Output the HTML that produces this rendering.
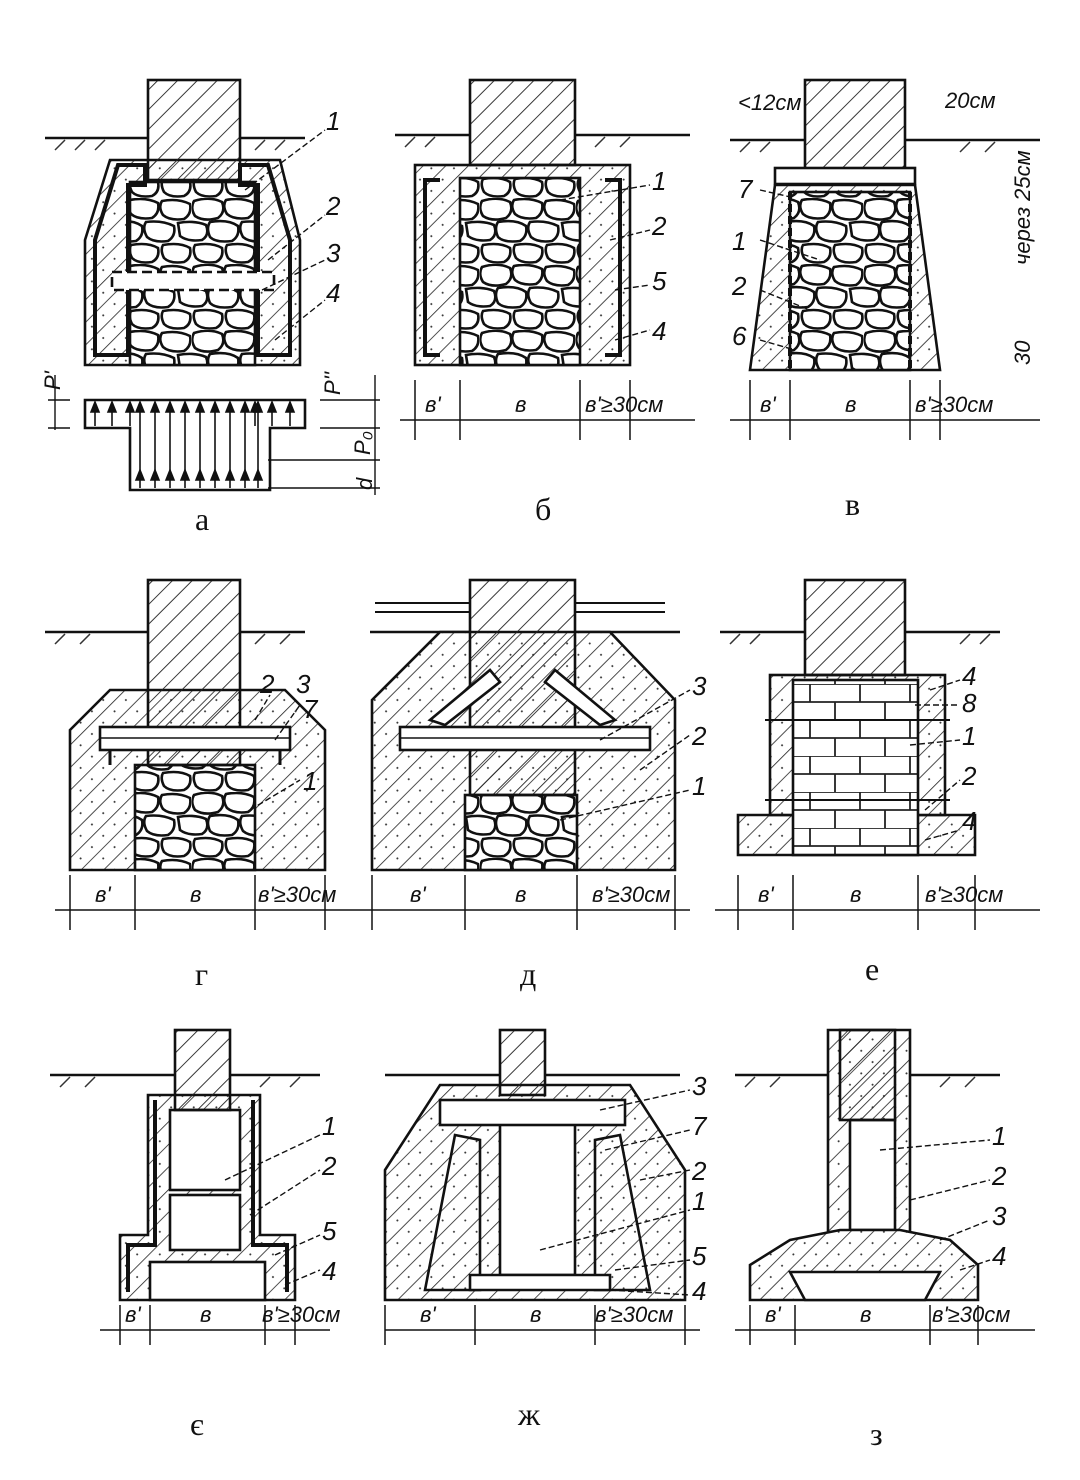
<!DOCTYPE html>
<html><head><meta charset="utf-8"><style>
html,body{margin:0;padding:0;background:#fff}
svg{display:block}
text{font-family:"Liberation Sans",sans-serif;fill:#111}
.n{font-size:26px;font-style:italic}
.l{font-family:"Liberation Serif",serif;font-size:32px}
.d{font-size:22px;font-style:italic}
</style></head><body>
<svg width="1080" height="1480" viewBox="0 0 1080 1480" xmlns="http://www.w3.org/2000/svg">
<defs>
<pattern id="h" width="16" height="16" patternUnits="userSpaceOnUse" patternTransform="rotate(45)">
<rect width="16" height="16" fill="#fff"/><line x1="0" y1="0" x2="0" y2="16" stroke="#222" stroke-width="1.6"/><circle cx="8" cy="6" r="1" fill="#333"/>
</pattern>
<pattern id="g" width="14" height="14" patternUnits="userSpaceOnUse" patternTransform="rotate(45)">
<line x1="0" y1="0" x2="0" y2="14" stroke="#222" stroke-width="1.8"/>
</pattern>
<pattern id="r" width="96" height="66" patternUnits="userSpaceOnUse">
<rect width="96" height="66" fill="#fff"/>
<g fill="#fff" stroke="#111" stroke-width="2.6">
<path d="M2 3Q18 -2 30 4Q34 14 26 20Q12 24 3 18Q-2 10 2 3Z"/>
<path d="M34 2Q50 -1 62 5Q64 15 56 20Q42 22 35 16Q30 8 34 2Z"/>
<path d="M66 3Q82 0 94 6Q96 16 88 21Q74 23 67 17Q62 9 66 3Z"/>
<path d="M-14 25Q2 22 14 27Q18 37 10 42Q-4 44 -12 38Z"/>
<path d="M18 24Q36 21 46 28Q48 38 40 43Q24 45 18 39Q14 30 18 24Z"/>
<path d="M50 24Q66 22 78 28Q80 38 72 43Q58 45 51 39Q46 30 50 24Z"/>
<path d="M82 25Q98 22 110 27Q114 37 106 42Q92 44 84 38Z"/>
<path d="M3 47Q20 44 30 50Q32 60 24 64Q10 66 4 60Q0 52 3 47Z"/>
<path d="M35 47Q52 44 62 50Q64 60 56 64Q42 66 36 60Q32 52 35 47Z"/>
<path d="M67 47Q84 44 94 50Q96 60 88 64Q74 66 68 60Q64 52 67 47Z"/>
</g></pattern>
<pattern id="b" width="50" height="36" patternUnits="userSpaceOnUse">
<rect width="50" height="36" fill="#fff"/>
<g stroke="#222" stroke-width="1.8" fill="none">
<line x1="0" y1="0" x2="50" y2="0"/><line x1="0" y1="18" x2="50" y2="18"/>
<line x1="10" y1="0" x2="10" y2="18"/><line x1="35" y1="18" x2="35" y2="36"/></g></pattern>
</defs>
<g stroke="#111" stroke-width="2.4" fill="none">
<path d="M45 138H148M240 138H305M395 135H470M575 135H690M730 140H805M905 140H1040"/>
<path d="M45 632H148M240 632H305M370 632H470M575 632H680M720 632H805M905 632H1000"/>
<path d="M50 1075H175M230 1075H320M385 1075H500M545 1075H680M735 1075H828M910 1075H1000"/>
</g>
<g stroke="#333" stroke-width="1.5">
<path d="M55 150l10-10M75 150l10-10M95 150l10-10M255 150l10-10M275 150l10-10M405 147l10-10M425 147l10-10M595 147l10-10M620 147l10-10M740 152l10-10M760 152l10-10M960 152l10-10M985 152l10-10"/>
<path d="M55 644l10-10M80 644l10-10M255 644l10-10M280 644l10-10M730 644l10-10M750 644l10-10M960 644l10-10M980 644l10-10"/>
<path d="M60 1087l10-10M85 1087l10-10M260 1087l10-10M290 1087l10-10M745 1087l10-10M770 1087l10-10M940 1087l10-10M965 1087l10-10"/>
</g>

<g stroke="#111" stroke-width="2.6">
<path d="M85 240L110 160H280L300 240V365H85Z" fill="url(#h)"/>
<rect x="130" y="182" width="125" height="183" fill="url(#r)"/>
<rect x="148" y="80" width="92" height="100" fill="url(#g)"/>
<path d="M95 240L118 165H145V185H128V355H95Z M290 240L268 165H240V185H258V355H290Z" fill="none" stroke-width="4"/>
<rect x="112" y="272" width="162" height="18" fill="#fff" stroke-dasharray="10 5"/>
<path d="M85 400H305V428H270V490H130V428H85Z" fill="#fff"/>
</g>
<g stroke="#111" stroke-width="1.6" fill="#111">
<g id="ar1"><line x1="0" y1="0" x2="0" y2="-22"/><path d="M-4 -14L0 -24L4 -14Z"/></g>
<use href="#ar1" x="95" y="426"/><use href="#ar1" x="112" y="426"/><use href="#ar1" x="130" y="426"/>
<use href="#ar1" x="255" y="426"/><use href="#ar1" x="272" y="426"/><use href="#ar1" x="290" y="426"/>
<g id="ar2"><line x1="0" y1="0" x2="0" y2="-84"/><path d="M-4 -76L0 -86L4 -76Z"/><path d="M-4 -8L0 -18L4 -8Z"/></g>
<use href="#ar2" x="140" y="488"/><use href="#ar2" x="155" y="488"/><use href="#ar2" x="170" y="488"/><use href="#ar2" x="185" y="488"/><use href="#ar2" x="200" y="488"/><use href="#ar2" x="215" y="488"/><use href="#ar2" x="230" y="488"/><use href="#ar2" x="245" y="488"/><use href="#ar2" x="258" y="488"/>
</g>
<g stroke="#111" stroke-width="1.4" fill="none"><path d="M55 375V430M48 400H70M48 428H70M375 375V495M320 400H380M320 428H380M268 460H380M268 488H380"/></g>
<text class="d" x="60" y="390" transform="rotate(-90 60 390)">P'</text>
<text class="d" x="340" y="395" transform="rotate(-90 340 395)">P''</text>
<text class="d" x="370" y="455" transform="rotate(-90 370 455)">P₀</text>
<text class="d" x="372" y="490" transform="rotate(-90 372 490)">d</text>

<g stroke="#111" stroke-width="2.6">
<rect x="415" y="165" width="215" height="200" fill="url(#h)"/>
<rect x="460" y="178" width="120" height="187" fill="url(#r)"/>
<rect x="470" y="80" width="105" height="85" fill="url(#g)"/>
<path d="M440 180H425V355H440M605 180H620V355H605" fill="none" stroke-width="4"/>
</g>
<g stroke="#111" stroke-width="2.6">
<path d="M775 185H915L940 370H750Z" fill="url(#h)"/>
<rect x="790" y="192" width="120" height="178" fill="url(#r)"/>
<rect x="805" y="80" width="100" height="90" fill="url(#g)"/>
<rect x="775" y="168" width="140" height="16" fill="#fff"/>
<path d="M790 192V370M910 192V370" stroke-width="4" stroke-dasharray="8 4"/>
</g>

<g stroke="#111" stroke-width="2.6">
<path d="M70 730L110 690H285L325 730V870H70Z" fill="url(#h)"/>
<rect x="135" y="765" width="120" height="105" fill="url(#r)"/>
<rect x="148" y="580" width="92" height="185" fill="url(#g)"/>
<rect x="100" y="727" width="190" height="23" fill="#fff"/>
<line x1="100" y1="738" x2="290" y2="738" stroke-width="1.5"/>
<path d="M110 750v15M280 750v15" stroke-width="3"/>
</g>
<g stroke="#111" stroke-width="2.6">
<path d="M372 700L440 632H610L675 700V870H372Z" fill="url(#h)"/>
<rect x="465" y="795" width="112" height="75" fill="url(#r)"/>
<rect x="470" y="580" width="105" height="215" fill="url(#g)"/>
<path d="M430 720L490 670L500 682L445 725ZM615 720L555 670L545 682L600 725Z" fill="#fff"/>
<rect x="400" y="727" width="250" height="23" fill="#fff"/>
<line x1="400" y1="738" x2="650" y2="738" stroke-width="1.5"/>
<path d="M375 603H470M375 612H470M575 603H665M575 612H665" stroke-width="2"/>
</g>
<g stroke="#111" stroke-width="2.6">
<path d="M738 815H975V855H738Z" fill="url(#h)"/>
<rect x="770" y="675" width="175" height="140" fill="url(#h)"/>
<rect x="793" y="680" width="125" height="175" fill="url(#b)"/>
<rect x="805" y="580" width="100" height="95" fill="url(#g)"/>
<path d="M765 720H950M765 800H950" stroke-width="2"/>
</g>

<g stroke="#111" stroke-width="2.6">
<path d="M148 1095H260V1235H295V1300H120V1235H148Z" fill="url(#h)"/>
<rect x="170" y="1110" width="70" height="80" fill="#fff"/>
<rect x="170" y="1195" width="70" height="55" fill="#fff"/>
<rect x="150" y="1262" width="115" height="38" fill="#fff"/>
<rect x="175" y="1030" width="55" height="80" fill="url(#g)"/>
<path d="M155 1100V1245H128V1292M253 1100V1245H287V1292" stroke-width="4" fill="none"/>
</g>
<g stroke="#111" stroke-width="2.6">
<path d="M440 1085H630L685 1170V1300H385V1170Z" fill="url(#h)"/>
<path d="M455 1135L425 1290H480L480 1140ZM620 1135L650 1290H595L595 1140Z" fill="url(#h)"/>
<rect x="500" y="1120" width="75" height="155" fill="#fff"/>
<rect x="500" y="1030" width="45" height="65" fill="url(#g)"/>
<rect x="440" y="1100" width="185" height="25" fill="#fff"/>
<path d="M470 1275H610V1290H470Z" fill="#fff"/>
</g>
<g stroke="#111" stroke-width="2.6">
<path d="M828 1030H910V1235H828Z" fill="url(#h)"/>
<rect x="850" y="1120" width="45" height="110" fill="#fff"/>
<rect x="840" y="1030" width="55" height="90" fill="url(#g)"/>
<path d="M750 1265L790 1240L840 1230H900L950 1240L978 1265V1300H750Z" fill="url(#h)"/>
<path d="M790 1272H940L925 1300H805Z" fill="#fff"/>
</g>

<g stroke="#111" stroke-width="1.4" stroke-dasharray="6 3" fill="none">
<path d="M245 190L325 130M268 260L325 215M262 290L325 260M275 340L325 300"/>
<path d="M560 200L650 185M610 240L650 230M615 290L650 285M615 340L650 330"/>
<path d="M760 190L795 198M760 240L820 260M760 290L810 310M760 340L795 350"/>
<path d="M255 720L270 695M275 740L300 705M250 810L300 780"/>
<path d="M600 740L690 690M640 770L690 735M560 820L690 790"/>
<path d="M930 690L960 680M915 705L960 705M910 745L960 740M925 810L960 780M925 840L960 830"/>
<path d="M225 1180L320 1135M250 1215L320 1170M275 1255L320 1235M285 1285L320 1270"/>
<path d="M600 1110L690 1090M605 1150L690 1130M640 1180L690 1170M540 1250L690 1210M615 1270L690 1260M610 1290L690 1295"/>
<path d="M880 1150L990 1140M910 1200L990 1180M940 1240L990 1220M960 1270L990 1260"/>
</g>
<g>
<text class="n" x="326" y="130">1</text><text class="n" x="326" y="215">2</text><text class="n" x="326" y="262">3</text><text class="n" x="326" y="302">4</text>
<text class="n" x="652" y="190">1</text><text class="n" x="652" y="235">2</text><text class="n" x="652" y="290">5</text><text class="n" x="652" y="340">4</text>
<text class="n" x="738" y="198">7</text><text class="n" x="732" y="250">1</text><text class="n" x="732" y="295">2</text><text class="n" x="732" y="345">6</text>
<text class="n" x="260" y="693">2</text><text class="n" x="296" y="693">3</text><text class="n" x="303" y="718">7</text><text class="n" x="303" y="790">1</text>
<text class="n" x="692" y="695">3</text><text class="n" x="692" y="745">2</text><text class="n" x="692" y="795">1</text>
<text class="n" x="962" y="685">4</text><text class="n" x="962" y="712">8</text><text class="n" x="962" y="745">1</text><text class="n" x="962" y="785">2</text><text class="n" x="962" y="830">4</text>
<text class="n" x="322" y="1135">1</text><text class="n" x="322" y="1175">2</text><text class="n" x="322" y="1240">5</text><text class="n" x="322" y="1280">4</text>
<text class="n" x="692" y="1095">3</text><text class="n" x="692" y="1135">7</text><text class="n" x="692" y="1180">2</text><text class="n" x="692" y="1210">1</text><text class="n" x="692" y="1265">5</text><text class="n" x="692" y="1300">4</text>
<text class="n" x="992" y="1145">1</text><text class="n" x="992" y="1185">2</text><text class="n" x="992" y="1225">3</text><text class="n" x="992" y="1265">4</text>
</g>
<text class="d" x="738" y="110">&lt;12см</text><text class="d" x="945" y="108">20см</text>
<text class="d" x="1030" y="265" transform="rotate(-90 1030 265)">через 25см</text>
<text class="d" x="1030" y="365" transform="rotate(-90 1030 365)">30</text>

<g stroke="#111" stroke-width="1.5" fill="none">
<path d="M400 420H695M415 380V440M460 380V440M580 380V440M630 380V440"/>
<path d="M730 420H1040M750 380V440M790 380V440M910 380V440M940 380V440"/>
<path d="M55 910H370M70 875V930M135 875V930M255 875V930M325 875V930"/>
<path d="M370 910H690M372 875V930M465 875V930M577 875V930M675 875V930"/>
<path d="M715 910H1040M738 875V930M793 875V930M918 875V930M975 875V930"/>
<path d="M100 1330H330M120 1305V1345M150 1305V1345M265 1305V1345M295 1305V1345"/>
<path d="M385 1330H700M385 1305V1345M475 1305V1345M595 1305V1345M685 1305V1345"/>
<path d="M735 1330H1035M750 1305V1345M795 1305V1345M930 1305V1345M978 1305V1345"/>
</g>
<g>
<text class="d" x="425" y="412">в'</text><text class="d" x="515" y="412">в</text><text class="d" x="585" y="412">в'≥30см</text>
<text class="d" x="760" y="412">в'</text><text class="d" x="845" y="412">в</text><text class="d" x="915" y="412">в'≥30см</text>
<text class="d" x="95" y="902">в'</text><text class="d" x="190" y="902">в</text><text class="d" x="258" y="902">в'≥30см</text>
<text class="d" x="410" y="902">в'</text><text class="d" x="515" y="902">в</text><text class="d" x="592" y="902">в'≥30см</text>
<text class="d" x="758" y="902">в'</text><text class="d" x="850" y="902">в</text><text class="d" x="925" y="902">в'≥30см</text>
<text class="d" x="125" y="1322">в'</text><text class="d" x="200" y="1322">в</text><text class="d" x="262" y="1322">в'≥30см</text>
<text class="d" x="420" y="1322">в'</text><text class="d" x="530" y="1322">в</text><text class="d" x="595" y="1322">в'≥30см</text>
<text class="d" x="765" y="1322">в'</text><text class="d" x="860" y="1322">в</text><text class="d" x="932" y="1322">в'≥30см</text>
</g>
<text class="l" x="195" y="530">а</text><text class="l" x="535" y="520">б</text><text class="l" x="845" y="515">в</text>
<text class="l" x="195" y="985">г</text><text class="l" x="520" y="985">д</text><text class="l" x="865" y="980">е</text>
<text class="l" x="190" y="1435">є</text><text class="l" x="518" y="1425">ж</text><text class="l" x="870" y="1445">з</text>
</svg>
</body></html>
